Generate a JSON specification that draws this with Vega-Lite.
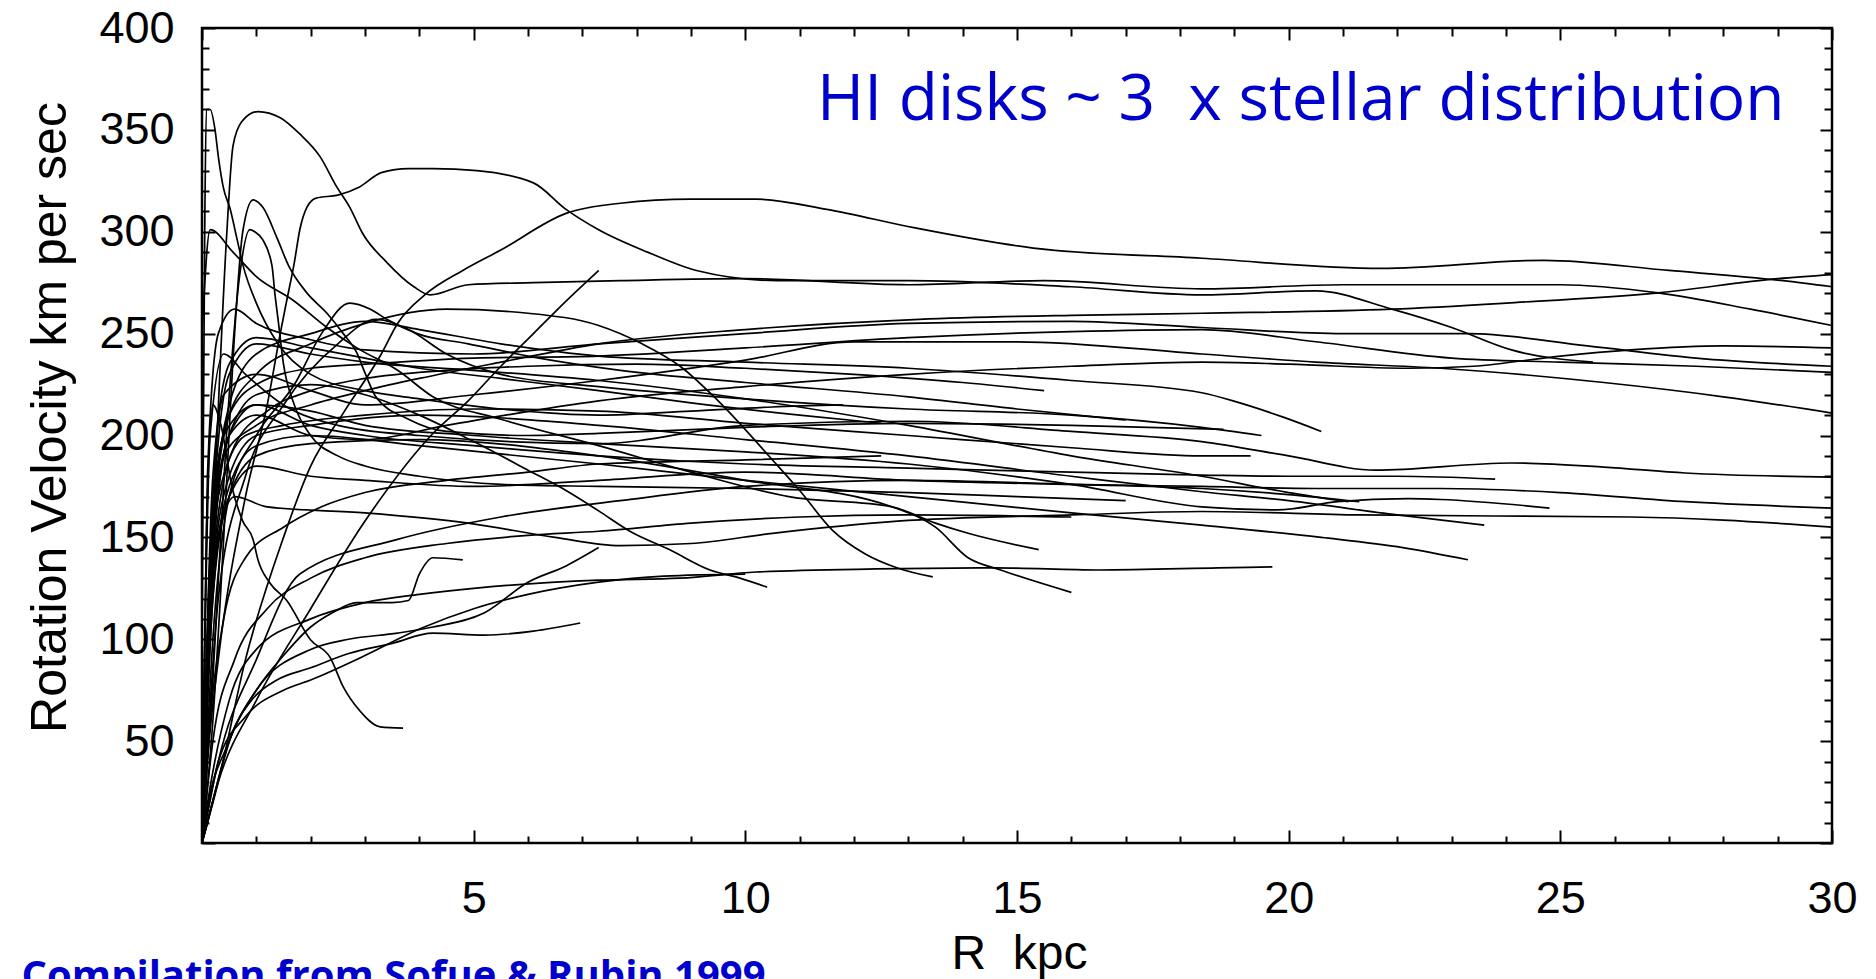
{
"$schema": "https://vega.github.io/schema/vega-lite/v6.json",
"width": 1630, "height": 815,
"autosize": {"type": "none"},
"padding": {"left": 202, "top": 28, "right": 44, "bottom": 136},
"background": "white",
"config": {
  "view": {"stroke": "black", "strokeWidth": 2.5, "fill": "white"},
  "axis": {"labelFont": "Liberation Sans", "labelFontSize": 45, "labelColor": "black", "titleFont": "Liberation Sans", "titleFontWeight": "normal", "titleColor": "black", "grid": false, "domain": false, "tickColor": "black", "tickWidth": 2, "labelFlush": false, "labelOverlap": false}
},
"datasets": {
"c": [
{"g":1,"R":0,"V":0},{"g":1,"R":0.3,"V":30},{"g":1,"R":0.8,"V":90},{"g":1,"R":1.5,"V":150},{"g":1,"R":2,"V":185},{"g":1,"R":2.6,"V":211},{"g":1,"R":3.3,"V":240},{"g":1,"R":3.6,"V":255},{"g":1,"R":4.1,"V":269},{"g":1,"R":4.8,"V":281},{"g":1,"R":5.5,"V":291},{"g":1,"R":6.7,"V":309},{"g":1,"R":7.7,"V":314},{"g":1,"R":9,"V":316},{"g":1,"R":10.2,"V":316},{"g":1,"R":11.5,"V":311},{"g":1,"R":13.1,"V":302},{"g":1,"R":15.3,"V":292},{"g":1,"R":18.4,"V":287},{"g":1,"R":21.7,"V":282},{"g":1,"R":24.7,"V":286},{"g":1,"R":27,"V":281},{"g":1,"R":29.1,"V":276},{"g":1,"R":30,"V":273},
{"g":2,"R":0,"V":10},{"g":2,"R":0.2,"V":150},{"g":2,"R":0.46,"V":301},{"g":2,"R":0.57,"V":342},{"g":2,"R":0.73,"V":354},{"g":2,"R":1.03,"V":359},{"g":2,"R":1.44,"V":356},{"g":2,"R":1.8,"V":348},{"g":2,"R":2.17,"V":337},{"g":2,"R":2.48,"V":322},{"g":2,"R":2.72,"V":312},{"g":2,"R":2.96,"V":299},{"g":2,"R":3.4,"V":285},{"g":2,"R":3.9,"V":273},{"g":2,"R":4.2,"V":269},{"g":2,"R":4.9,"V":274},{"g":2,"R":6.1,"V":275},{"g":2,"R":7.7,"V":276},{"g":2,"R":10,"V":277},{"g":2,"R":13,"V":274},{"g":2,"R":15.5,"V":276},{"g":2,"R":18.4,"V":272},{"g":2,"R":21,"V":274},{"g":2,"R":25,"V":274},{"g":2,"R":26.8,"V":270},{"g":2,"R":28.5,"V":262},{"g":2,"R":30,"V":254},
{"g":3,"R":0,"V":0},{"g":3,"R":0.15,"V":120},{"g":3,"R":0.4,"V":190},{"g":3,"R":1,"V":205},{"g":3,"R":2,"V":215},{"g":3,"R":3,"V":222},{"g":3,"R":4,"V":228},{"g":3,"R":5.5,"V":236},{"g":3,"R":7.3,"V":245},{"g":3,"R":10,"V":252},{"g":3,"R":13.2,"V":257},{"g":3,"R":16,"V":259},{"g":3,"R":18.4,"V":260},{"g":3,"R":21.9,"V":262},{"g":3,"R":24,"V":265},{"g":3,"R":26.8,"V":270},{"g":3,"R":29,"V":277},{"g":3,"R":30,"V":279},
{"g":4,"R":0,"V":0},{"g":4,"R":0.2,"V":140},{"g":4,"R":0.5,"V":200},{"g":4,"R":1,"V":210},{"g":4,"R":2,"V":200},{"g":4,"R":3,"V":198},{"g":4,"R":4.5,"V":205},{"g":4,"R":7.3,"V":217},{"g":4,"R":10,"V":224},{"g":4,"R":13,"V":230},{"g":4,"R":16,"V":234},{"g":4,"R":18.4,"V":236},{"g":4,"R":20,"V":235},{"g":4,"R":22.2,"V":233},{"g":4,"R":23.4,"V":234},{"g":4,"R":25,"V":239},{"g":4,"R":26.3,"V":242},{"g":4,"R":28,"V":244},{"g":4,"R":30,"V":243},
{"g":5,"R":0,"V":20},{"g":5,"R":0.1,"V":180},{"g":5,"R":0.3,"V":250},{"g":5,"R":0.6,"V":262},{"g":5,"R":1,"V":255},{"g":5,"R":2,"V":247},{"g":5,"R":3,"V":242},{"g":5,"R":5,"V":240},{"g":5,"R":7.3,"V":245},{"g":5,"R":10,"V":250},{"g":5,"R":13,"V":255},{"g":5,"R":16,"V":256},{"g":5,"R":18.4,"V":253},{"g":5,"R":21,"V":250},{"g":5,"R":23.3,"V":250},{"g":5,"R":25.5,"V":244},{"g":5,"R":27.5,"V":238},{"g":5,"R":30,"V":234},
{"g":6,"R":0,"V":0},{"g":6,"R":0.2,"V":160},{"g":6,"R":0.5,"V":210},{"g":6,"R":1,"V":225},{"g":6,"R":2,"V":233},{"g":6,"R":3,"V":235},{"g":6,"R":5,"V":238},{"g":6,"R":7.3,"V":239},{"g":6,"R":10,"V":243},{"g":6,"R":13,"V":248},{"g":6,"R":16,"V":251},{"g":6,"R":18.4,"V":252},{"g":6,"R":20.5,"V":246},{"g":6,"R":23,"V":238},{"g":6,"R":25,"V":236},{"g":6,"R":27.5,"V":234},{"g":6,"R":30,"V":231},
{"g":7,"R":0,"V":0},{"g":7,"R":0.2,"V":170},{"g":7,"R":0.4,"V":220},{"g":7,"R":1,"V":230},{"g":7,"R":2,"V":222},{"g":7,"R":3,"V":215},{"g":7,"R":5,"V":220},{"g":7,"R":7.3,"V":227},{"g":7,"R":10,"V":237},{"g":7,"R":12,"V":246},{"g":7,"R":15,"V":246},{"g":7,"R":18.4,"V":240},{"g":7,"R":20.5,"V":236},{"g":7,"R":22.8,"V":233},{"g":7,"R":25.8,"V":226},{"g":7,"R":28,"V":219},{"g":7,"R":30,"V":211},
{"g":8,"R":0,"V":10},{"g":8,"R":0.15,"V":200},{"g":8,"R":0.4,"V":240},{"g":8,"R":0.8,"V":230},{"g":8,"R":1.5,"V":215},{"g":8,"R":2.5,"V":205},{"g":8,"R":4,"V":200},{"g":8,"R":7.3,"V":196},{"g":8,"R":10,"V":205},{"g":8,"R":13,"V":207},{"g":8,"R":16,"V":202},{"g":8,"R":18.4,"V":197},{"g":8,"R":20,"V":190},{"g":8,"R":21.6,"V":183},{"g":8,"R":24.1,"V":186.5},{"g":8,"R":25.8,"V":184.5},{"g":8,"R":27.3,"V":181.6},{"g":8,"R":30,"V":179.6},
{"g":9,"R":0,"V":0},{"g":9,"R":0.2,"V":130},{"g":9,"R":0.5,"V":170},{"g":9,"R":1,"V":185},{"g":9,"R":2,"V":180},{"g":9,"R":3,"V":178},{"g":9,"R":5,"V":175},{"g":9,"R":7.3,"V":178},{"g":9,"R":10,"V":182},{"g":9,"R":13,"V":178},{"g":9,"R":16,"V":176},{"g":9,"R":18.4,"V":175},{"g":9,"R":20.5,"V":174},{"g":9,"R":22.8,"V":174},{"g":9,"R":25,"V":172},{"g":9,"R":27.3,"V":167.5},{"g":9,"R":30,"V":164.4},
{"g":10,"R":0,"V":0},{"g":10,"R":0.1,"V":100},{"g":10,"R":0.3,"V":150},{"g":10,"R":0.6,"V":170},{"g":10,"R":1.2,"V":165},{"g":10,"R":3,"V":162},{"g":10,"R":4.9,"V":157},{"g":10,"R":6.5,"V":150},{"g":10,"R":7.7,"V":146},{"g":10,"R":9,"V":147},{"g":10,"R":10.5,"V":152},{"g":10,"R":12.8,"V":158},{"g":10,"R":16,"V":161},{"g":10,"R":18.4,"V":162.7},{"g":10,"R":21.3,"V":161},{"g":10,"R":26.3,"V":160},{"g":10,"R":28,"V":158.5},{"g":10,"R":30,"V":155},
{"g":11,"R":0,"V":0},{"g":11,"R":0.1,"V":40},{"g":11,"R":0.3,"V":90},{"g":11,"R":0.8,"V":170},{"g":11,"R":1.2,"V":215},{"g":11,"R":1.44,"V":250},{"g":11,"R":1.55,"V":265},{"g":11,"R":1.7,"V":285},{"g":11,"R":1.8,"V":301},{"g":11,"R":1.93,"V":312},{"g":11,"R":2.1,"V":316.5},{"g":11,"R":2.5,"V":318},{"g":11,"R":2.9,"V":322},{"g":11,"R":3.3,"V":329},{"g":11,"R":3.8,"V":331},{"g":11,"R":4.25,"V":331},{"g":11,"R":5.06,"V":330},{"g":11,"R":6.1,"V":324},{"g":11,"R":6.7,"V":311},{"g":11,"R":7.3,"V":301},{"g":11,"R":8.2,"V":290},{"g":11,"R":9.1,"V":281},{"g":11,"R":10.6,"V":276},{"g":11,"R":13,"V":276},{"g":11,"R":16,"V":273},{"g":11,"R":18.4,"V":269},{"g":11,"R":20.5,"V":271},{"g":11,"R":21.9,"V":262},{"g":11,"R":23,"V":253},{"g":11,"R":24.1,"V":242},{"g":11,"R":25.6,"V":236},
{"g":12,"R":0,"V":0},{"g":12,"R":0.2,"V":150},{"g":12,"R":0.5,"V":215},{"g":12,"R":1,"V":240},{"g":12,"R":2,"V":250},{"g":12,"R":3,"V":256},{"g":12,"R":4,"V":252},{"g":12,"R":5.5,"V":245},{"g":12,"R":7.3,"V":239},{"g":12,"R":10,"V":236},{"g":12,"R":13,"V":233},{"g":12,"R":16,"V":227},{"g":12,"R":18.4,"V":221},{"g":12,"R":19.1,"V":216},{"g":12,"R":19.9,"V":209},{"g":12,"R":20.6,"V":202},
{"g":13,"R":0,"V":0},{"g":13,"R":0.15,"V":140},{"g":13,"R":0.4,"V":200},{"g":13,"R":1,"V":215},{"g":13,"R":2,"V":205},{"g":13,"R":3,"V":200},{"g":13,"R":5,"V":195},{"g":13,"R":7.3,"V":190},{"g":13,"R":10,"V":186},{"g":13,"R":13,"V":184},{"g":13,"R":16,"V":182},{"g":13,"R":18.4,"V":180.6},{"g":13,"R":20,"V":180},{"g":13,"R":22,"V":180},{"g":13,"R":23.8,"V":178.6},
{"g":14,"R":0,"V":0},{"g":14,"R":0.2,"V":120},{"g":14,"R":0.5,"V":175},{"g":14,"R":1,"V":195},{"g":14,"R":2,"V":200},{"g":14,"R":4,"V":195},{"g":14,"R":7.3,"V":186},{"g":14,"R":10,"V":178},{"g":14,"R":13,"V":170},{"g":14,"R":16,"V":162},{"g":14,"R":18.4,"V":156},{"g":14,"R":20.6,"V":150},{"g":14,"R":22.1,"V":145},{"g":14,"R":23.3,"V":139},
{"g":15,"R":0,"V":0},{"g":15,"R":0.05,"V":10},{"g":15,"R":0.5,"V":70},{"g":15,"R":1,"V":95},{"g":15,"R":2,"V":110},{"g":15,"R":3,"V":118},{"g":15,"R":4,"V":122},{"g":15,"R":5,"V":125},{"g":15,"R":7.3,"V":129},{"g":15,"R":8.8,"V":130},{"g":15,"R":10.2,"V":133},{"g":15,"R":12.4,"V":134.5},{"g":15,"R":14.6,"V":135},{"g":15,"R":16.5,"V":134},{"g":15,"R":18.7,"V":135},{"g":15,"R":19.7,"V":135.5},
{"g":16,"R":0,"V":0},{"g":16,"R":0.2,"V":150},{"g":16,"R":0.5,"V":200},{"g":16,"R":1,"V":215},{"g":16,"R":2,"V":212},{"g":16,"R":3,"V":205},{"g":16,"R":5,"V":200},{"g":16,"R":7.3,"V":196},{"g":16,"R":10,"V":192},{"g":16,"R":13,"V":186},{"g":16,"R":16,"V":176},{"g":16,"R":18.4,"V":165},{"g":16,"R":19.8,"V":163.5},{"g":16,"R":20.9,"V":167.5},{"g":16,"R":22.2,"V":169},{"g":16,"R":22.8,"V":168.6},{"g":16,"R":24.8,"V":164.4},
{"g":17,"R":0,"V":0},{"g":17,"R":0.2,"V":160},{"g":17,"R":0.5,"V":230},{"g":17,"R":1,"V":245},{"g":17,"R":2,"V":240},{"g":17,"R":3,"V":236},{"g":17,"R":5,"V":232},{"g":17,"R":7.3,"V":227},{"g":17,"R":10,"V":218},{"g":17,"R":13,"V":205},{"g":17,"R":16,"V":190},{"g":17,"R":18.4,"V":180},{"g":17,"R":20,"V":172},{"g":17,"R":21.1,"V":167.5},
{"g":18,"R":0,"V":0},{"g":18,"R":0.3,"V":40},{"g":18,"R":1,"V":90},{"g":18,"R":1.8,"V":132},{"g":18,"R":3.6,"V":149},{"g":18,"R":5.5,"V":160},{"g":18,"R":7.7,"V":168},{"g":18,"R":10,"V":175},{"g":18,"R":13,"V":178},{"g":18,"R":16,"V":176},{"g":18,"R":18.4,"V":174},{"g":18,"R":20,"V":171},{"g":18,"R":21.3,"V":167.5},
{"g":19,"R":0,"V":0},{"g":19,"R":0.2,"V":130},{"g":19,"R":0.5,"V":180},{"g":19,"R":1,"V":200},{"g":19,"R":2,"V":205},{"g":19,"R":4,"V":210},{"g":19,"R":7.3,"V":205},{"g":19,"R":10,"V":198},{"g":19,"R":13,"V":190},{"g":19,"R":16,"V":180},{"g":19,"R":18.4,"V":172.4},{"g":19,"R":20,"V":168},{"g":19,"R":22,"V":161},{"g":19,"R":23.6,"V":156},
{"g":20,"R":0,"V":0},{"g":20,"R":0.3,"V":170},{"g":20,"R":0.8,"V":200},{"g":20,"R":1.5,"V":205},{"g":20,"R":3,"V":210},{"g":20,"R":5,"V":213},{"g":20,"R":7.3,"V":212},{"g":20,"R":10,"V":206},{"g":20,"R":13,"V":200},{"g":20,"R":16,"V":194},{"g":20,"R":18.4,"V":190},{"g":20,"R":19.3,"V":190},
{"g":21,"R":0,"V":0},{"g":21,"R":0.2,"V":100},{"g":21,"R":0.5,"V":170},{"g":21,"R":1,"V":200},{"g":21,"R":1.7,"V":225},{"g":21,"R":2.2,"V":250},{"g":21,"R":2.72,"V":265},{"g":21,"R":3.1,"V":262},{"g":21,"R":3.4,"V":257},{"g":21,"R":3.96,"V":250},{"g":21,"R":4.9,"V":245},{"g":21,"R":6.1,"V":238.5},{"g":21,"R":7.7,"V":232},{"g":21,"R":10,"V":226},{"g":21,"R":13,"V":219},{"g":21,"R":15,"V":213},{"g":21,"R":17,"V":207.6},
{"g":22,"R":0,"V":250},{"g":22,"R":0.15,"V":301},{"g":22,"R":0.57,"V":290},{"g":22,"R":1,"V":278},{"g":22,"R":1.67,"V":266.5},{"g":22,"R":2.3,"V":253},{"g":22,"R":2.85,"V":243},{"g":22,"R":3.6,"V":232},{"g":22,"R":4.25,"V":219},{"g":22,"R":5.5,"V":208},{"g":22,"R":7.3,"V":195},{"g":22,"R":9,"V":182},{"g":22,"R":10.8,"V":170},{"g":22,"R":12.7,"V":165},{"g":22,"R":13.5,"V":157},{"g":22,"R":14.1,"V":152},{"g":22,"R":15.4,"V":144},
{"g":23,"R":0,"V":0},{"g":23,"R":0.2,"V":120},{"g":23,"R":0.5,"V":170},{"g":23,"R":1,"V":190},{"g":23,"R":2,"V":196},{"g":23,"R":4,"V":198},{"g":23,"R":7.3,"V":190},{"g":23,"R":10,"V":178},{"g":23,"R":12.7,"V":165},{"g":23,"R":13.5,"V":155},{"g":23,"R":14.1,"V":140},{"g":23,"R":14.7,"V":134},{"g":23,"R":16,"V":123},
{"g":24,"R":0,"V":0},{"g":24,"R":0.2,"V":150},{"g":24,"R":0.5,"V":210},{"g":24,"R":1,"V":230},{"g":24,"R":2,"V":245},{"g":24,"R":3,"V":255},{"g":24,"R":4.5,"V":262},{"g":24,"R":6,"V":260},{"g":24,"R":7.3,"V":254},{"g":24,"R":8.1,"V":245},{"g":24,"R":8.8,"V":234},{"g":24,"R":9.5,"V":217},{"g":24,"R":10.5,"V":188},{"g":24,"R":11,"V":173},{"g":24,"R":11.6,"V":153.6},{"g":24,"R":12.2,"V":142},{"g":24,"R":12.8,"V":135},{"g":24,"R":13.45,"V":130.6},
{"g":25,"R":0,"V":0},{"g":25,"R":0.2,"V":140},{"g":25,"R":0.5,"V":200},{"g":25,"R":1,"V":220},{"g":25,"R":2,"V":225},{"g":25,"R":3,"V":220},{"g":25,"R":4,"V":210},{"g":25,"R":5,"V":197},{"g":25,"R":6,"V":183},{"g":25,"R":6.7,"V":173},{"g":25,"R":7.3,"V":163},{"g":25,"R":7.9,"V":152.6},{"g":25,"R":8.6,"V":144},{"g":25,"R":9.35,"V":134},{"g":25,"R":9.9,"V":130},{"g":25,"R":10.4,"V":125.6},
{"g":26,"R":0,"V":0},{"g":26,"R":0.3,"V":30},{"g":26,"R":1,"V":70},{"g":26,"R":2,"V":115},{"g":26,"R":3,"V":158},{"g":26,"R":4.25,"V":201},{"g":26,"R":4.9,"V":217},{"g":26,"R":5.5,"V":234},{"g":26,"R":6.1,"V":250},{"g":26,"R":6.7,"V":266},{"g":26,"R":7.3,"V":281},
{"g":27,"R":0,"V":0},{"g":27,"R":0.05,"V":10},{"g":27,"R":0.5,"V":50},{"g":27,"R":1,"V":75},{"g":27,"R":2,"V":95},{"g":27,"R":2.7,"V":100},{"g":27,"R":3.6,"V":103},{"g":27,"R":4.25,"V":106},{"g":27,"R":5.2,"V":113},{"g":27,"R":6,"V":128},{"g":27,"R":6.7,"V":136},{"g":27,"R":7.3,"V":145},
{"g":28,"R":0,"V":0},{"g":28,"R":0.05,"V":5},{"g":28,"R":0.33,"V":34},{"g":28,"R":0.57,"V":55},{"g":28,"R":0.88,"V":69},{"g":28,"R":1.38,"V":80},{"g":28,"R":2,"V":86},{"g":28,"R":2.7,"V":93},{"g":28,"R":3.5,"V":98},{"g":28,"R":4.25,"V":103},{"g":28,"R":5.2,"V":102},{"g":28,"R":6.1,"V":104},{"g":28,"R":6.96,"V":108},
{"g":29,"R":0,"V":0},{"g":29,"R":0.08,"V":150},{"g":29,"R":0.2,"V":215},{"g":29,"R":0.35,"V":205},{"g":29,"R":0.55,"V":175},{"g":29,"R":0.75,"V":158},{"g":29,"R":0.94,"V":149},{"g":29,"R":1.03,"V":139},{"g":29,"R":1.25,"V":127.6},{"g":29,"R":1.56,"V":119},{"g":29,"R":2,"V":99.6},{"g":29,"R":2.36,"V":91},{"g":29,"R":2.6,"V":76.6},{"g":29,"R":2.9,"V":65},{"g":29,"R":3.28,"V":57},{"g":29,"R":3.7,"V":56.4},
{"g":30,"R":0,"V":0},{"g":30,"R":0.05,"V":5},{"g":30,"R":0.5,"V":50},{"g":30,"R":1,"V":75},{"g":30,"R":1.5,"V":92},{"g":30,"R":2,"V":106},{"g":30,"R":2.4,"V":113},{"g":30,"R":2.85,"V":118},{"g":30,"R":3.5,"V":118},{"g":30,"R":3.8,"V":119},{"g":30,"R":4,"V":132},{"g":30,"R":4.25,"V":140},{"g":30,"R":4.8,"V":139},
{"g":31,"R":0,"V":0},{"g":31,"R":0.2,"V":60},{"g":31,"R":0.4,"V":150},{"g":31,"R":0.6,"V":250},{"g":31,"R":0.75,"V":300},{"g":31,"R":0.94,"V":315.6},{"g":31,"R":1.12,"V":312},{"g":31,"R":1.38,"V":297},{"g":31,"R":1.6,"V":283},{"g":31,"R":1.93,"V":270},{"g":31,"R":2.3,"V":260},{"g":31,"R":2.6,"V":250},{"g":31,"R":2.85,"V":240.5},{"g":31,"R":3,"V":230.7},{"g":31,"R":3.2,"V":219},{"g":31,"R":3.8,"V":208},{"g":31,"R":4.5,"V":202},{"g":31,"R":6,"V":200},{"g":31,"R":7.3,"V":201},{"g":31,"R":10,"V":204},{"g":31,"R":13,"V":206},{"g":31,"R":16,"V":205},{"g":31,"R":18.8,"V":203},
{"g":32,"R":0,"V":0},{"g":32,"R":0.2,"V":80},{"g":32,"R":0.45,"V":200},{"g":32,"R":0.7,"V":280},{"g":32,"R":0.88,"V":301},{"g":32,"R":0.97,"V":300},{"g":32,"R":1.12,"V":296},{"g":32,"R":1.29,"V":283},{"g":32,"R":1.34,"V":270},{"g":32,"R":1.4,"V":257},{"g":32,"R":1.5,"V":235},{"g":32,"R":1.7,"V":215},{"g":32,"R":2,"V":200},{"g":32,"R":2.5,"V":190},{"g":32,"R":3,"V":185},{"g":32,"R":4,"V":180},{"g":32,"R":5.5,"V":176},{"g":32,"R":7.3,"V":175},{"g":32,"R":10,"V":174},{"g":32,"R":13,"V":172},{"g":32,"R":15,"V":170},{"g":32,"R":17,"V":168},
{"g":33,"R":0,"V":100},{"g":33,"R":0.05,"V":300},{"g":33,"R":0.08,"V":360},{"g":33,"R":0.15,"V":360},{"g":33,"R":0.24,"V":350},{"g":33,"R":0.3,"V":337},{"g":33,"R":0.39,"V":322},{"g":33,"R":0.52,"V":311},{"g":33,"R":0.64,"V":297},{"g":33,"R":0.76,"V":283},{"g":33,"R":1,"V":265},{"g":33,"R":1.4,"V":245},{"g":33,"R":2,"V":230},{"g":33,"R":3,"V":222},{"g":33,"R":4,"V":218},{"g":33,"R":5.5,"V":213},{"g":33,"R":7.3,"V":210},{"g":33,"R":9,"V":212},{"g":33,"R":10.5,"V":214},{"g":33,"R":11.8,"V":215},
{"g":34,"R":0,"V":0},{"g":34,"R":0.3,"V":120},{"g":34,"R":0.8,"V":180},{"g":34,"R":1.5,"V":215},{"g":34,"R":2.5,"V":245},{"g":34,"R":3.2,"V":257},{"g":34,"R":3.8,"V":252},{"g":34,"R":4.5,"V":240},{"g":34,"R":5.5,"V":230},{"g":34,"R":7.3,"V":224},{"g":34,"R":10,"V":218},{"g":34,"R":13,"V":213},{"g":34,"R":16,"V":210},{"g":34,"R":18.4,"V":204},{"g":34,"R":19.5,"V":200},
{"g":35,"R":0,"V":0},{"g":35,"R":0.2,"V":50},{"g":35,"R":0.6,"V":90},{"g":35,"R":1.2,"V":115},{"g":35,"R":2,"V":130},{"g":35,"R":3,"V":140},{"g":35,"R":4.5,"V":147},{"g":35,"R":6,"V":151},{"g":35,"R":7.3,"V":153},{"g":35,"R":9,"V":157},{"g":35,"R":11,"V":160},{"g":35,"R":13,"V":161},{"g":35,"R":16,"V":160},
{"g":36,"R":0,"V":0},{"g":36,"R":0.3,"V":40},{"g":36,"R":0.8,"V":62},{"g":36,"R":1.5,"V":75},{"g":36,"R":2,"V":80},{"g":36,"R":3,"V":92},{"g":36,"R":4,"V":105},{"g":36,"R":5,"V":115},{"g":36,"R":6,"V":122},{"g":36,"R":7.3,"V":128},{"g":36,"R":8.5,"V":131},{"g":36,"R":10,"V":132},
{"g":37,"R":0,"V":0},{"g":37,"R":0.15,"V":60},{"g":37,"R":0.4,"V":110},{"g":37,"R":0.8,"V":140},{"g":37,"R":1.5,"V":155},{"g":37,"R":2.2,"V":165},{"g":37,"R":3,"V":172},{"g":37,"R":4.5,"V":178},{"g":37,"R":6,"V":182},{"g":37,"R":7.3,"V":186},{"g":37,"R":10,"V":188},{"g":37,"R":12.5,"V":190},
{"g":38,"R":0,"V":0},{"g":38,"R":0.2,"V":180},{"g":38,"R":0.5,"V":235},{"g":38,"R":1,"V":248},{"g":38,"R":2,"V":243},{"g":38,"R":3,"V":238},{"g":38,"R":4,"V":233},{"g":38,"R":5.5,"V":228},{"g":38,"R":7.3,"V":222},{"g":38,"R":9,"V":216},{"g":38,"R":11,"V":210},{"g":38,"R":12.5,"V":206},
{"g":39,"R":0,"V":0},{"g":39,"R":0.25,"V":150},{"g":39,"R":0.6,"V":195},{"g":39,"R":1.2,"V":212},{"g":39,"R":2,"V":222},{"g":39,"R":3,"V":228},{"g":39,"R":4.5,"V":232},{"g":39,"R":6,"V":234},{"g":39,"R":8,"V":235},{"g":39,"R":10,"V":233},{"g":39,"R":12,"V":230},{"g":39,"R":14,"V":226},{"g":39,"R":15.5,"V":222}
]
},
"layer": [
{
  "data": {"name": "c"},
  "mark": {"type": "line", "stroke": "black", "strokeWidth": 1.7, "interpolate": "monotone"},
  "encoding": {
    "x": {"field": "R", "type": "quantitative", "scale": {"domain": [0, 30], "nice": false, "zero": false},
      "axis": {"orient": "bottom", "values": [5, 10, 15, 20, 25, 30], "ticks": false, "labelPadding": 33, "title": "R\u00a0 kpc", "titleFontSize": 48, "titleX": 817, "titleY": 111, "titleAlign": "center", "titleBaseline": "middle"}},
    "y": {"field": "V", "type": "quantitative", "scale": {"domain": [0, 400], "nice": false, "zero": false},
      "axis": {"orient": "left", "values": [50, 100, 150, 200, 250, 300, 350, 400], "ticks": false, "labelPadding": 28, "title": "Rotation Velocity km per sec", "titleFontSize": 50, "titleAngle": 270, "titleX": -152, "titleY": 389, "titleAlign": "center", "titleBaseline": "middle"}},
    "detail": {"field": "g", "type": "nominal"}
  }
},
{
  "data": {"name": "c"},
  "mark": {"type": "point", "opacity": 0},
  "encoding": {
    "x": {"field": "R", "type": "quantitative", "axis": {"orient": "bottom", "values": [0, 5, 10, 15, 20, 25, 30], "tickSize": -13, "labels": false, "title": null}},
    "y": {"field": "V", "type": "quantitative", "axis": {"orient": "left", "values": [0, 50, 100, 150, 200, 250, 300, 350, 400], "tickSize": -13, "labels": false, "title": null}}
  }
},
{
  "data": {"name": "c"},
  "mark": {"type": "point", "opacity": 0},
  "encoding": {
    "x": {"field": "R", "type": "quantitative", "axis": {"orient": "bottom", "values": [1,2,3,4,6,7,8,9,11,12,13,14,16,17,18,19,21,22,23,24,26,27,28,29], "tickSize": -7, "labels": false, "title": null}},
    "y": {"field": "V", "type": "quantitative", "axis": {"orient": "left", "values": [10,20,30,40,60,70,80,90,110,120,130,140,160,170,180,190,210,220,230,240,260,270,280,290,310,320,330,340,360,370,380,390], "tickSize": -7, "labels": false, "title": null}}
  }
},
{
  "data": {"name": "c"},
  "mark": {"type": "point", "opacity": 0},
  "encoding": {
    "x": {"field": "R", "type": "quantitative", "axis": {"orient": "top", "values": [0, 5, 10, 15, 20, 25, 30], "tickSize": -12, "labels": false, "title": null}},
    "y": {"field": "V", "type": "quantitative", "axis": {"orient": "right", "values": [0, 50, 100, 150, 200, 250, 300, 350, 400], "tickSize": -12, "labels": false, "title": null}}
  }
},
{
  "data": {"name": "c"},
  "mark": {"type": "point", "opacity": 0},
  "encoding": {
    "x": {"field": "R", "type": "quantitative", "axis": {"orient": "top", "values": [1,2,3,4,6,7,8,9,11,12,13,14,16,17,18,19,21,22,23,24,26,27,28,29], "tickSize": -8, "labels": false, "title": null}},
    "y": {"field": "V", "type": "quantitative", "axis": {"orient": "right", "values": [10,20,30,40,60,70,80,90,110,120,130,140,160,170,180,190,210,220,230,240,260,270,280,290,310,320,330,340,360,370,380,390], "tickSize": -8, "labels": false, "title": null}}
  }
},
{
  "data": {"values": [{"R": 11.32, "V": 354.9, "label": "HI disks ~ 3\u00a0 x stellar distribution"}]},
  "mark": {"type": "text", "font": "Open Sans", "fontSize": 64, "color": "#0000CC", "align": "left", "baseline": "alphabetic"},
  "encoding": {
    "x": {"field": "R", "type": "quantitative", "axis": null},
    "y": {"field": "V", "type": "quantitative", "axis": null},
    "text": {"field": "label"}
  }
},
{
  "data": {"values": [{"R": -3.32, "V": -71.7, "label": "Compilation from Sofue & Rubin 1999"}]},
  "mark": {"type": "text", "font": "Open Sans", "fontSize": 40, "fontWeight": "bold", "color": "#0000CC", "align": "left", "baseline": "alphabetic"},
  "encoding": {
    "x": {"field": "R", "type": "quantitative", "axis": null},
    "y": {"field": "V", "type": "quantitative", "axis": null},
    "text": {"field": "label"}
  }
}
],
"resolve": {"axis": {"x": "independent", "y": "independent"}}
}
